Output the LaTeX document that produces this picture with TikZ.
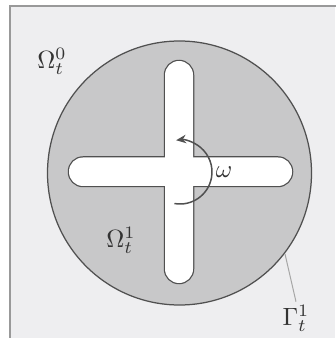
\documentclass[tikz,border=0pt]{standalone}
\usepackage{amsmath,amssymb}
\usepackage{xcolor}
\usetikzlibrary{arrows.meta,positioning}
\definecolor{bggray}{HTML}{EEEEF0}
\definecolor{diskgray}{HTML}{C8C8C9}
\definecolor{edgegray}{HTML}{505050}
\tikzset{
  >=stealth,
  line cap=round,
  line join=round,
  outerbox/.style={draw=gray!80, line width=0.8pt},
  disk/.style={fill=diskgray, draw=edgegray, line width=0.5pt},
  crossbar/.style={rounded corners=5.6pt},
  lbl/.style={inner sep=1pt, text=black!80},
  leader/.style={draw=gray!70, line width=0.4pt}
}
\begin{document}
\begin{tikzpicture}[x=0.4pt,y=-0.4pt]
  \useasboundingbox (0,0) rectangle (335,338);
  \fill[bggray] (10,6) rectangle (335,338);
  \draw[outerbox] (10,340) -- (10,6) -- (337,6);

  % disk
  \draw[disk] (179.5,173) circle[radius=132];

  % cross (border, then white inside)
  \draw[edgegray, line width=1pt, crossbar] (165,61) rectangle (193,283);
  \draw[edgegray, line width=1pt, crossbar] (69,157.5) rectangle (292,186);
  \fill[white, crossbar] (165,61) rectangle (193,283);
  \fill[white, crossbar] (69,157.5) rectangle (292,186);

  % rotation
  \draw[-{Stealth[length=4pt,width=3.4pt]}, edgegray, line width=0.6pt] (180,172) ++(100:32) arc[start angle=100, end angle=-97, radius=32];
  \node[lbl] (omega) at (224,172) {$\omega$};

  % labels
  \node[lbl] (om0) at (52,61) {$\Omega_t^0$};
  \node[lbl] (om1) at (121,240) {$\Omega_t^1$};
  \node[lbl] (gam) at (296,318) {$\Gamma_t^1$};
  \coordinate (rim) at (285,254);
  \draw[leader] (rim) -- (gam.north);
\end{tikzpicture}
\end{document}
